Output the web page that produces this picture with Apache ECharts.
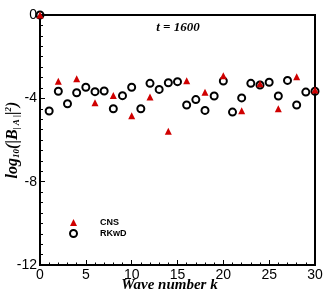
<!DOCTYPE html>
<html><head><meta charset="utf-8">
<script src="https://cdn.jsdelivr.net/npm/echarts@6/dist/echarts.min.js"></script>
<style>html,body{margin:0;padding:0;background:#fff}#c{width:332px;height:296px}</style>
</head><body><div id="c"></div>
<script>
const waveNumbers = [0,1,2,3,4,5,6,7,8,9,10,11,12,13,14,15,16,17,18,19,20,21,22,23,24,25,26,27,28,29,30];
const rkwdValues = [0,-4.61,-3.66,-4.26,-3.73,-3.47,-3.68,-3.65,-4.50,-3.87,-3.47,-4.50,-3.28,-3.57,-3.25,-3.20,-4.32,-4.06,-4.58,-3.89,-3.17,-4.66,-3.98,-3.28,-3.36,-3.23,-3.89,-3.14,-4.32,-3.70,-3.66];
const cnsK = [0,2,4,6,8,10,12,14,16,18,20,22,24,26,28,30];
const cnsValues = [0,-3.18,-3.06,-4.21,-3.86,-4.83,-3.94,-5.58,-3.15,-3.71,-2.91,-4.59,-3.30,-4.50,-2.96,-3.60];
const yTicks = [0,-4,-8,-12];
const xTicks = [0,5,10,15,20,25,30];

const chart = echarts.init(document.getElementById('c'), null, {renderer:'canvas'});
const serif = '"Liberation Serif","DejaVu Serif",serif';
const sans = '"Liberation Sans",Arial,sans-serif';
chart.setOption({
  animation:false,
  backgroundColor:'#fff',
  title:{text:'t = 1600', left:173, top:16, textAlign:'center',
    textStyle:{fontFamily:serif, fontStyle:'italic', fontWeight:'bold', fontSize:13, color:'#000'}},
  grid:{left:40, right:17, top:15, bottom:31, containLabel:false, outerBoundsMode:'none',
    show:true, borderColor:'#000', borderWidth:2, backgroundColor:'transparent'},
  legend:{orient:'vertical', left:64, top:213, itemWidth:7, itemHeight:7, itemGap:2,
    data:['CNS','RKwD'],
    textStyle:{fontFamily:sans, fontWeight:'bold', fontSize:9, color:'#000', padding:[0,0,0,18]}},
  xAxis:{type:'value', min:0, max:30, interval:5,
    name:'Wave number k', nameLocation:'middle', nameGap:13, nameMoveOverlap:false,
    nameTextStyle:{fontFamily:serif, fontStyle:'italic', fontWeight:'bold', fontSize:15, color:'#000', padding:[0,16,0,0]},
    axisLine:{show:true, onZero:false, lineStyle:{color:'#000', width:2}},
    axisTick:{show:true, inside:true, length:5, lineStyle:{color:'#000', width:1}},
    minorTick:{show:true, splitNumber:5, length:2.5, lineStyle:{color:'#000', width:1}},
    splitLine:{show:false},
    axisLabel:{fontFamily:sans, fontSize:14, color:'#000', margin:3,
      customValues: xTicks}},
  yAxis:{type:'value', min:-12, max:0, interval:4,
    name:'{n|log}{sub|10}{n|(|B}{sub|| A |}{n||}{sup|2}{n|)}', nameLocation:'middle', nameGap:19, nameMoveOverlap:false,
    nameTextStyle:{rich:{
      n:{fontFamily:serif, fontStyle:'italic', fontWeight:'bold', fontSize:16, color:'#000'},
      sub:{fontFamily:serif, fontStyle:'italic', fontWeight:'bold', fontSize:9, color:'#000', padding:[8,0,0,0]},
      sup:{fontFamily:serif, fontStyle:'italic', fontWeight:'bold', fontSize:9, color:'#000', padding:[0,0,8,0]}
    }},
    axisLine:{show:true, onZero:false, lineStyle:{color:'#000', width:2}},
    axisTick:{show:true, inside:true, length:5, lineStyle:{color:'#000', width:1}},
    minorTick:{show:true, splitNumber:8, length:3, lineStyle:{color:'#000', width:1}},
    splitLine:{show:false},
    axisLabel:{fontFamily:sans, fontSize:14, color:'#000', margin:3,
      customValues: yTicks}},
  series:[
    {name:'RKwD', type:'scatter', symbol:'circle', symbolSize:7, z:2,
      itemStyle:{color:'rgba(0,0,0,0)', borderColor:'#000', borderWidth:2, opacity:1},
      data: waveNumbers.map((k,i)=>[k, rkwdValues[i]])},
    {name:'CNS', type:'scatter', symbol:'triangle', symbolSize:7, z:3,
      itemStyle:{color:'#d00000', opacity:1},
      data: cnsK.map((k,i)=>[k, cnsValues[i]])}
  ]
});
</script></body></html>
